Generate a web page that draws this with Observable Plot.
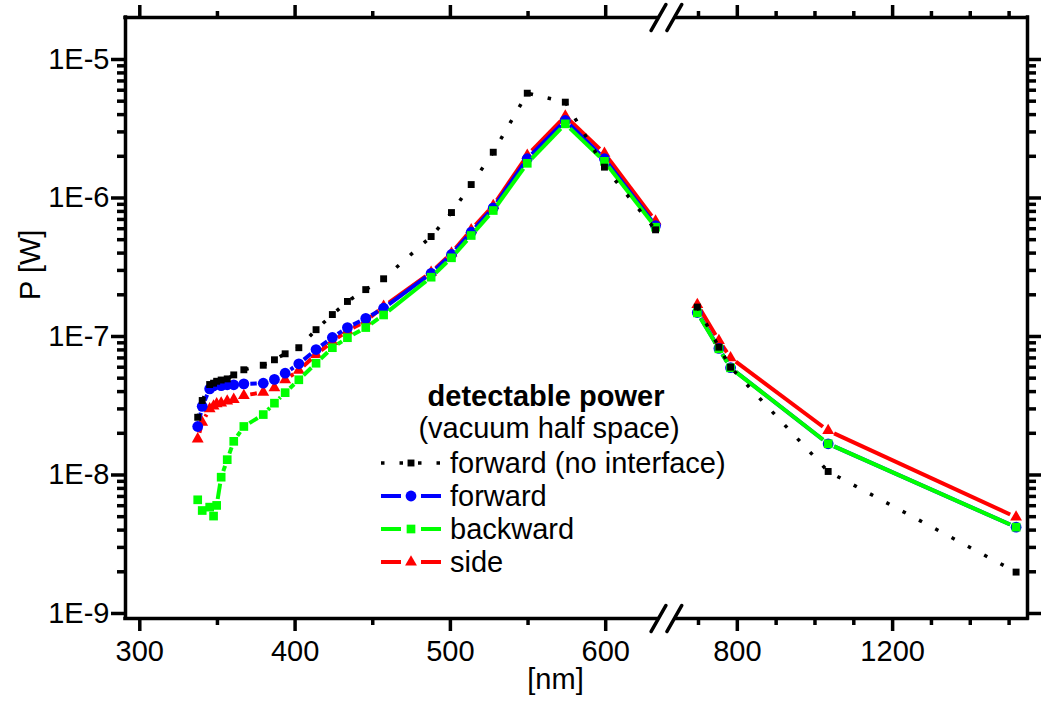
<!DOCTYPE html>
<html><head><meta charset="utf-8">
<script src="https://cdn.jsdelivr.net/npm/d3@7"></script>
<script src="https://cdn.jsdelivr.net/npm/@observablehq/plot@0.6"></script>
<style>
body{margin:0;background:#fff}
#chart svg{font-family:"Liberation Sans",Arial,Helvetica,sans-serif}
</style>
</head><body><div id="chart"></div>
<script>
// ---------------- data ----------------
const wavelength = [337.3, 340.2, 345, 347.5, 349.5, 352.4, 356.3, 360.5, 367, 379.5, 386.7, 393.6, 402.4, 413.5, 424, 433.7, 445.5, 457, 487.6, 500.7, 513.4, 527.6, 549.5, 574, 599.2, 632.1, 697, 752.6, 782.6, 1034, 1518];
const noInterface = [2.61e-8, 3.45e-8, 4.5e-8, 4.6e-8, 4.75e-8, 4.85e-8, 4.94e-8, 5.28e-8, 5.75e-8, 6.2e-8, 6.79e-8, 7.5e-8, 8.3e-8, 1.12e-7, 1.44e-7, 1.79e-7, 2.18e-7, 2.61e-7, 5.27e-7, 7.85e-7, 1.25e-6, 2.14e-6, 5.71e-6, 4.92e-6, 1.67e-6, 5.89e-7, 1.63e-7, 8.37e-8, 6.0e-8, 1.06e-8, 1.99e-9];
const forward = [2.24e-8, 3.13e-8, 4.19e-8, 4.4e-8, 4.55e-8, 4.42e-8, 4.48e-8, 4.48e-8, 4.55e-8, 4.6e-8, 4.9e-8, 5.43e-8, 6.35e-8, 8.05e-8, 9.84e-8, 1.16e-7, 1.35e-7, 1.6e-7, 2.86e-7, 3.91e-7, 5.66e-7, 8.49e-7, 1.92e-6, 3.63e-6, 1.92e-6, 6.32e-7, 1.49e-7, 8.2e-8, 5.95e-8, 1.68e-8, 4.2e-9];
const backward = [6.62e-9, 5.54e-9, 5.86e-9, 5.05e-9, 6.03e-9, 9.64e-9, 1.29e-8, 1.75e-8, 2.24e-8, 2.73e-8, 3.3e-8, 3.93e-8, 4.87e-8, 6.41e-8, 8.3e-8, 9.8e-8, 1.16e-7, 1.43e-7, 2.68e-7, 3.7e-7, 5.36e-7, 8.12e-7, 1.78e-6, 3.43e-6, 1.84e-6, 6.15e-7, 1.48e-7, 8.15e-8, 5.94e-8, 1.68e-8, 4.2e-9];
const side = [1.82e-8, 2.4e-8, 3.0e-8, 3.15e-8, 3.27e-8, 3.3e-8, 3.41e-8, 3.51e-8, 3.75e-8, 3.96e-8, 4.26e-8, 4.87e-8, 5.69e-8, 7.4e-8, 9.2e-8, 1.1e-7, 1.29e-7, 1.65e-7, 2.9e-7, 4.0e-7, 5.9e-7, 8.83e-7, 2.03e-6, 3.9e-6, 2.1e-6, 6.8e-7, 1.7e-7, 9.35e-8, 7.02e-8, 2.09e-8, 4.96e-9];

const seriesNames = ["forward (no interface)", "forward", "backward", "side"];
const legendTitle = "detectable power";
const legendSubtitle = "(vacuum half space)";
const xTitle = "[nm]";
const yTitle = "P [W]";
const xMajorTicks = [300, 400, 500, 600, 800, 1200];
const xMinorTicks = [350, 450, 550, 700, 900, 1000, 1100, 1300, 1400, 1500];
const yMajorTicks = [1e-9, 1e-8, 1e-7, 1e-6, 1e-5];
const yMinorFactors = [2, 3, 4, 5, 6, 7, 8, 9];

// ---------------- broken x axis: map nm to a display unit ----------------
const LEFT_END = 633;       // last display unit of the left segment
const RIGHT_START_U = 646;  // first display unit of the right segment
const RIGHT_START_NM = 645; // nm at that position
const COMPRESS = 4;         // right segment is 4x compressed
const SPLIT = 640;
const toU = nm => nm < SPLIT ? nm : RIGHT_START_U + (nm - RIGHT_START_NM) / COMPRESS;
const xDomain = [290.8, 871.6];
const yDomain = [9.2e-10, 2.01e-5];

const W = 1041, H = 706, ML = 125, MR = 14, MT = 17, MB = 88;
const xScale = Plot.scale({x: {type: "linear", domain: xDomain, range: [ML, W - MR]}});
const yScale = Plot.scale({y: {type: "log", domain: yDomain, range: [H - MB, MT]}});

const INK = "#000";
const styles = {
  "forward (no interface)": {values: noInterface, color: "#000000", symbol: "square", r: 3.9, width: 3.5, dash: "3.5,15", gap: 0},
  "forward": {values: forward, color: "#0000ff", symbol: "circle", r: 5.4, width: 4, dash: null, gap: 6.5},
  "backward": {values: backward, color: "#00ff00", symbol: "square", r: 4.9, width: 4, dash: null, gap: 6.5},
  "side": {values: side, color: "#ff0000", symbol: "triangle", r: 4.4, width: 4, dash: null, gap: 6.5}
};
const drawOrder = ["side", "forward", "backward", "forward (no interface)"];

function rowsOf(name) {
  const vals = styles[name].values;
  const out = [];
  wavelength.forEach((nm, i) => {
    if (vals[i] != null) out.push({u: toU(nm), v: vals[i], seg: nm < SPLIT ? "L" : "R"});
  });
  return out;
}

// connecting segments that stop short of each marker (gap in pixels)
function gapSegments(rows, gap) {
  const segs = [];
  for (let i = 1; i < rows.length; i++) {
    const a = rows[i - 1], b = rows[i];
    if (a.seg !== b.seg) continue;
    const ax = xScale.apply(a.u), ay = yScale.apply(a.v), bx = xScale.apply(b.u), by = yScale.apply(b.v);
    const len = Math.hypot(bx - ax, by - ay);
    if (len <= 2 * gap + 1) continue;
    const ux = (bx - ax) / len, uy = (by - ay) / len;
    segs.push({
      x1: xScale.invert(ax + ux * gap), y1: yScale.invert(ay + uy * gap),
      x2: xScale.invert(bx - ux * gap), y2: yScale.invert(by - uy * gap)
    });
  }
  return segs;
}

const seriesMarks = [];
for (const name of drawOrder) {
  const s = styles[name];
  const rows = rowsOf(name);
  if (s.gap > 0) {
    seriesMarks.push(Plot.link(gapSegments(rows, s.gap), {x1: "x1", y1: "y1", x2: "x2", y2: "y2",
      stroke: s.color, strokeWidth: s.width, strokeLinecap: "butt"}));
  } else {
    seriesMarks.push(Plot.line(rows, {x: "u", y: "v", z: "seg", stroke: s.color, strokeWidth: s.width,
      strokeDasharray: s.dash ?? undefined, strokeLinecap: "butt", strokeLinejoin: "round"}));
  }
  seriesMarks.push(Plot.dot(rows, {x: "u", y: "v", symbol: () => s.symbol, fill: s.color, stroke: "none", r: s.r}));
}

// tick label lookup
const xLabel = new Map(xMajorTicks.map(nm => [toU(nm), String(nm)]));
const yMinorTicks = [];
for (const d of yMajorTicks.slice(0, -1)) for (const f of yMinorFactors) yMinorTicks.push(d * f);

// axis break slashes (in scale units)
const slashHalfU = 4.8, slashHalfDec = 0.094;
const slashCenters = [634, 644.2];
const breakSlashes = [];
for (const yv of yDomain) for (const c of slashCenters)
  breakSlashes.push({x1: c - slashHalfU, y1: yv / Math.pow(10, slashHalfDec), x2: c + slashHalfU, y2: yv * Math.pow(10, slashHalfDec)});

const FS = 29;
const LW = 3.5;
const chart = Plot.plot({
  width: W, height: H,
  marginLeft: ML, marginRight: MR, marginTop: MT, marginBottom: MB,
  style: {background: "#fff", color: INK, fontSize: FS + "px", fontFamily: "'Liberation Sans', Arial, sans-serif"},
  x: {type: "linear", domain: xDomain},
  y: {type: "log", domain: yDomain},
  marks: [
    // frame with broken horizontal edges
    Plot.ruleY(yDomain, {x1: xDomain[0], x2: LEFT_END, stroke: INK, strokeWidth: LW, strokeLinecap: "square"}),
    Plot.ruleY(yDomain, {x1: RIGHT_START_U, x2: xDomain[1], stroke: INK, strokeWidth: LW, strokeLinecap: "square"}),
    Plot.ruleX(xDomain, {y1: yDomain[0], y2: yDomain[1], stroke: INK, strokeWidth: LW, strokeLinecap: "square"}),
    Plot.link(breakSlashes, {x1: "x1", y1: "y1", x2: "x2", y2: "y2", stroke: INK, strokeWidth: LW, strokeLinecap: "round"}),
    // x axes
    Plot.axisX({anchor: "bottom", ticks: xMajorTicks.map(toU), tickSize: 13, tickPadding: 9, strokeWidth: LW,
      fontSize: FS, tickFormat: u => xLabel.get(u), label: null}),
    Plot.axisX({anchor: "bottom", ticks: xMinorTicks.map(toU), tickSize: 7, strokeWidth: LW, tickFormat: () => "", label: null}),
    Plot.axisX({anchor: "top", ticks: xMajorTicks.map(toU), tickSize: 13, strokeWidth: LW, tickFormat: () => "", label: null}),
    Plot.axisX({anchor: "top", ticks: xMinorTicks.map(toU), tickSize: 7, strokeWidth: LW, tickFormat: () => "", label: null}),
    // y axes
    Plot.axisY({anchor: "left", ticks: yMajorTicks, tickSize: 14, tickPadding: 2, strokeWidth: LW, fontSize: FS,
      tickFormat: d => "1E" + Math.round(Math.log10(d)), label: null}),
    Plot.axisY({anchor: "left", ticks: yMinorTicks, tickSize: 8, strokeWidth: LW, tickFormat: () => "", label: null}),
    Plot.axisY({anchor: "right", ticks: yMajorTicks, tickSize: 14, strokeWidth: LW, tickFormat: () => "", label: null}),
    Plot.axisY({anchor: "right", ticks: yMinorTicks, tickSize: 8, strokeWidth: LW, tickFormat: () => "", label: null}),
    // axis titles
    Plot.text([xTitle], {text: d => d, frameAnchor: "bottom", dx: -21, dy: 70, fontSize: FS, fill: INK}),
    Plot.text([yTitle], {text: d => d, frameAnchor: "left", dx: -95, dy: -18, rotate: -90, fontSize: FS, fill: INK}),
    ...seriesMarks
  ]
});
document.getElementById("chart").appendChild(chart);

// ---------------- legend (layout in pixels) ----------------
const svg = d3.select(chart);
const lg = svg.append("g").attr("font-family", "'Liberation Sans', Arial, sans-serif").attr("font-size", FS).attr("fill", INK);
lg.append("text").attr("x", 546).attr("y", 406).attr("text-anchor", "middle").attr("font-weight", "bold").text(legendTitle);
lg.append("text").attr("x", 549).attr("y", 438).attr("text-anchor", "middle").text(legendSubtitle);
const rowY = [463, 496, 529, 562];
const symGen = {circle: d3.symbolCircle, square: d3.symbolSquare, triangle: d3.symbolTriangle};
seriesNames.forEach((name, i) => {
  const s = styles[name];
  const y = rowY[i];
  if (s.dash) {
    lg.append("line").attr("x1", 381).attr("x2", 442).attr("y1", y).attr("y2", y)
      .attr("stroke", s.color).attr("stroke-width", s.width).attr("stroke-dasharray", s.dash);
  } else {
    lg.append("line").attr("x1", 381).attr("x2", 401).attr("y1", y).attr("y2", y).attr("stroke", s.color).attr("stroke-width", s.width);
    lg.append("line").attr("x1", 421).attr("x2", 441).attr("y1", y).attr("y2", y).attr("stroke", s.color).attr("stroke-width", s.width);
  }
  lg.append("path").attr("transform", `translate(411,${y})`)
    .attr("d", d3.symbol(symGen[s.symbol], Math.PI * s.r * s.r)()).attr("fill", s.color);
  lg.append("text").attr("x", 450).attr("y", y + 10).attr("text-anchor", "start").text(name);
});
</script>
</body></html>
